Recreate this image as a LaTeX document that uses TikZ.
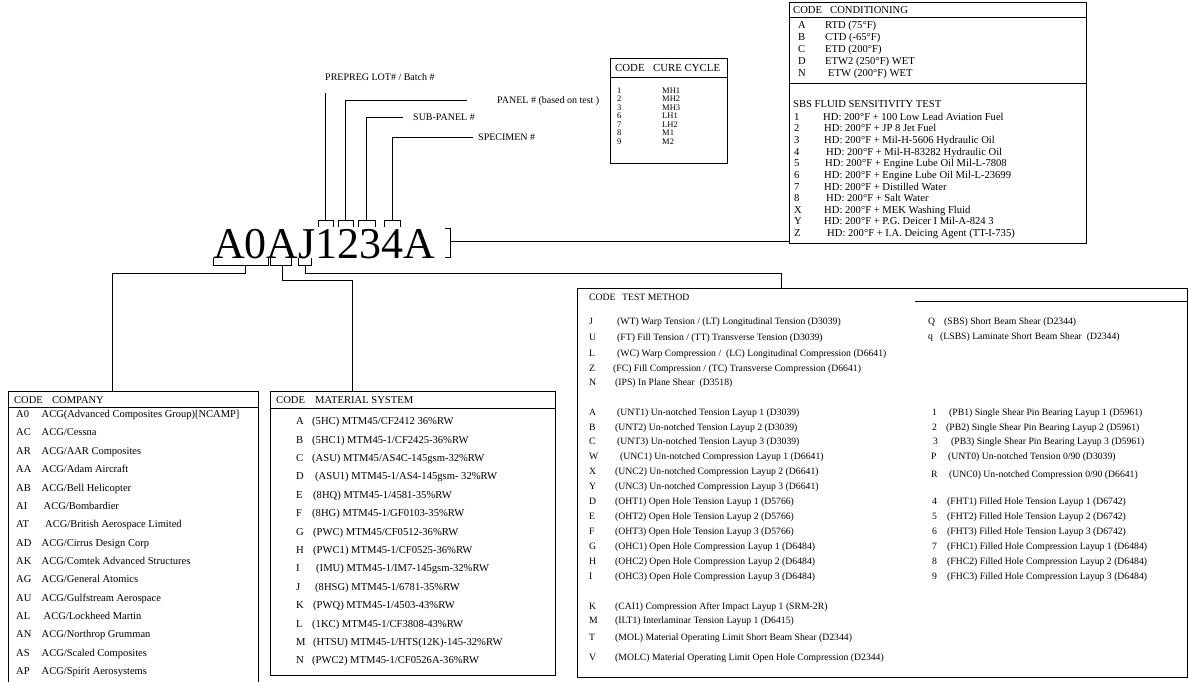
\documentclass[tikz,border=0pt]{standalone}
\usepackage{fontspec}
\setmainfont{Liberation Serif}
\begin{document}
\begin{tikzpicture}[x=1pt,y=-1pt,
  ln/.style={line width=0.8pt, draw=black},
  frame/.style={draw=black, line width=0.8pt, inner sep=0pt, outer sep=0pt, anchor=north west},
  tx/.style={anchor=base west, inner sep=0pt},
  fcond/.style={tx, font=\fontsize{10.6}{12}\selectfont, yshift=-3.6pt},
  fcureh/.style={tx, font=\fontsize{10.8}{12}\selectfont, yshift=-3.7pt},
  fcure/.style={tx, font=\fontsize{8.5}{9}\selectfont, yshift=-3pt},
  flbl/.style={tx, font=\fontsize{10}{12}\selectfont, yshift=-3.4pt},
  fcomp/.style={tx, font=\fontsize{10.5}{12}\selectfont, yshift=-3.6pt},
  fmat/.style={tx, font=\fontsize{10.6}{12}\selectfont, yshift=-3.6pt},
  ftm/.style={tx, font=\fontsize{9.7}{11}\selectfont, yshift=-3.3pt},
  fbig/.style={tx, font=\fontsize{44}{44}\selectfont}
]
\useasboundingbox (0,0) rectangle (1189,681);
\fill[white] (0,0) rectangle (1189,681);

% ---------- big code ----------
\node[fbig] (code) at (213,258) {A0AJ1234A};

% top brackets
\foreach \a/\b/\n in {318.3/333.3/t1, 338.3/353.3/t2, 358.3/375/t3, 384.3/400/t4}{
  \draw[ln] (\a,226.5) |- (\b,220.5) -- (\b,226.5);
  \coordinate (\n) at ({(\a+\b)/2},220.5);
}
% bottom brackets
\draw[ln] (213.3,258.3) |- (268.3,265) -- (268.3,258.3);
\draw[ln] (270,258.3) |- (291.7,265) -- (291.7,258.3);
\draw[ln] (298.3,258.3) |- (311.7,265) -- (311.7,258.3);
\coordinate (bA0) at (245,265);
\coordinate (bA) at (282,265);
\coordinate (bJ) at (305,265);
% right bracket
\draw[ln] (445,228) -| (450,257) -- (445,257);
\coordinate (rb) at (450,241.7);

% ---------- labels on top ----------
\node[flbl] (prepreg) at (325,77) {PREPREG LOT\# / Batch \#};
\node[flbl] (panel) at (497,100) {PANEL \# (based on test )};
\node[flbl] (subpanel) at (413,117) {SUB-PANEL \#};
\node[flbl] (specimen) at (478,137) {SPECIMEN \#};
\coordinate (pp) at (325.8,93);
\coordinate (pe) at (467,100);
\coordinate (se) at (403,117);
\coordinate (sp) at (473,137);
\draw[ln] (t1) -- (pp);
\draw[ln] (t2) |- (pe);
\draw[ln] (t3) |- (se);
\draw[ln] (t4) |- (sp);

% ---------- cure cycle ----------
\node[frame, minimum width=117pt, minimum height=105pt] (cure) at (610,58) {};
\draw[ln] (610,77) -- (727,77);
\node[fcureh] (cureC) at (615,68) {CODE};
\node[fcureh] (cureH) at (653,68) {CURE CYCLE};
\foreach \c/\v [count=\i from 0] in {1/MH1,2/MH2,3/MH3,6/LH1,7/LH2,8/M1,9/M2}{
  \node[fcure] (cc\c) at (617,{90+8.5*\i}) {\c};
  \node[fcure] (cv\c) at (662,{90+8.5*\i}) {\v};
}

% ---------- conditioning ----------
\node[frame, minimum width=297pt, minimum height=241pt] (cond) at (789,2) {};
\draw[ln] (789,17) -- (1086,17);
\draw[ln] (789,83) -- (1086,83);
\node[fcond] (condC) at (793,9.5) {CODE};
\node[fcond] (condH) at (830,9.5) {CONDITIONING};
\foreach \c/\x/\v [count=\i from 0] in {A/825/{RTD (75°F)},B/825/{CTD (-65°F)},C/825/{ETD (200°F)},D/825/{ETW2 (250°F) WET},N/828/{ETW (200°F) WET}}{
  \node[fcond] (ck\c) at (798,{24.5+12*\i}) {\c};
  \node[fcond] (cv\c) at (\x,{24.5+12*\i}) {\v};
}
\node[fcond] (sbs) at (793,104) {SBS FLUID SENSITIVITY TEST};
\foreach \c/\x/\v [count=\i from 0] in {
  1/823/{HD: 200°F + 100 Low Lead Aviation Fuel},
  2/824/{HD: 200°F + JP 8 Jet Fuel},
  3/824/{HD: 200°F + Mil-H-5606 Hydraulic Oil},
  4/826/{HD: 200°F + Mil-H-83282 Hydraulic Oil},
  5/825/{HD: 200°F + Engine Lube Oil Mil-L-7808},
  6/824/{HD: 200°F + Engine Lube Oil Mil-L-23699},
  7/824/{HD: 200°F + Distilled Water},
  8/826/{HD: 200°F + Salt Water},
  X/824/{HD: 200°F + MEK Washing Fluid},
  Y/824/{HD: 200°F + P.G. Deicer I Mil-A-824 3},
  Z/827/{HD: 200°F + I.A. Deicing Agent (TT-I-735)}}{
  \node[fcond] (sk\c) at (794,{116.5+11.65*\i}) {\c};
  \node[fcond] (sv\c) at (\x,{116.5+11.65*\i}) {\v};
}
\draw[ln] (rb) -- (rb -| cond.west);

% ---------- company ----------
\node[frame, minimum width=250pt, minimum height=300pt] (company) at (8,391) {};
\draw[ln] (8,407) -- (258,407);
\node[fcomp] (compC) at (14,399.5) {CODE};
\node[fcomp] (compH) at (52,399.5) {COMPANY};
\foreach \c/\x/\v [count=\i from 0] in {
  A0/41.5/{ACG(Advanced Composites Group)[NCAMP]},
  AC/41.5/{ACG/Cessna},
  AR/41.5/{ACG/AAR Composites},
  AA/41.5/{ACG/Adam Aircraft},
  AB/41.5/{ACG/Bell Helicopter},
  AI/43.5/{ACG/Bombardier},
  AT/45/{ACG/British Aerospace Limited},
  AD/41.5/{ACG/Cirrus Design Corp},
  AK/41.5/{ACG/Comtek Advanced Structures},
  AG/41.5/{ACG/General Atomics},
  AU/41.5/{ACG/Gulfstream Aerospace},
  AL/43.5/{ACG/Lockheed Martin},
  AN/41.5/{ACG/Northrop Grumman},
  AS/41.5/{ACG/Scaled Composites},
  AP/41.5/{ACG/Spirit Aerosystems}}{
  \node[fcomp] (pk\c) at (16,{414+18.35*\i}) {\c};
  \node[fcomp] (pv\c) at (\x,{414+18.35*\i}) {\v};
}

% ---------- material system ----------
\node[frame, minimum width=285pt, minimum height=284pt] (material) at (270,391) {};
\draw[ln] (270,408) -- (555,408);
\node[fmat] (matC) at (276,400) {CODE};
\node[fmat] (matH) at (315,400) {MATERIAL SYSTEM};
\foreach \c/\x/\v [count=\i from 0] in {
  A/312/{(5HC) MTM45/CF2412 36\%RW},
  B/312/{(5HC1) MTM45-1/CF2425-36\%RW},
  C/312/{(ASU) MTM45/AS4C-145gsm-32\%RW},
  D/315/{(ASU1) MTM45-1/AS4-145gsm- 32\%RW},
  E/313/{(8HQ) MTM45-1/4581-35\%RW},
  F/312/{(8HG) MTM45-1/GF0103-35\%RW},
  G/313/{(PWC) MTM45/CF0512-36\%RW},
  H/313/{(PWC1) MTM45-1/CF0525-36\%RW},
  I/316/{(IMU) MTM45-1/IM7-145gsm-32\%RW},
  J/315/{(8HSG) MTM45-1/6781-35\%RW},
  K/313/{(PWQ) MTM45-1/4503-43\%RW},
  L/312/{(1KC) MTM45-1/CF3808-43\%RW},
  M/313/{(HTSU) MTM45-1/HTS(12K)-145-32\%RW},
  N/312/{(PWC2) MTM45-1/CF0526A-36\%RW}}{
  \node[fmat] (mk\c) at (296,{421+18.4*\i}) {\c};
  \node[fmat] (mv\c) at (\x,{421+18.4*\i}) {\v};
}

% ---------- test method ----------
\node[frame, minimum width=610pt, minimum height=389pt] (test) at (577,288) {};
\draw[ln] (915,301) -- (1187,301);
\node[ftm] (tmC) at (589,297) {CODE};
\node[ftm] (tmH) at (622,297) {TEST METHOD};
\foreach \c/\x/\y/\v in {
  J/617/321/{(WT) Warp Tension / (LT) Longitudinal Tension (D3039)},
  U/617/337/{(FT) Fill Tension / (TT) Transverse Tension (D3039)},
  L/617/353/{(WC) Warp Compression /\ \ (LC) Longitudinal Compression (D6641)},
  Z/613/368/{(FC) Fill Compression / (TC) Transverse Compression (D6641)},
  N/615/382/{(IPS) In Plane Shear\ \ (D3518)},
  A/617/412/{(UNT1) Un-notched Tension Layup 1 (D3039)},
  B/615/427/{(UNT2) Un-notched Tension Layup 2 (D3039)},
  C/617/441/{(UNT3) Un-notched Tension Layup 3 (D3039)},
  W/620/456/{(UNC1) Un-notched Compression Layup 1 (D6641)},
  X/615/471/{(UNC2) Un-notched Compression Layup 2 (D6641)},
  Y/615/486/{(UNC3) Un-notched Compression Layup 3 (D6641)},
  D/615/501/{(OHT1) Open Hole Tension Layup 1 (D5766)},
  E/615/516/{(OHT2) Open Hole Tension Layup 2 (D5766)},
  F/615/531/{(OHT3) Open Hole Tension Layup 3 (D5766)},
  G/615/546/{(OHC1) Open Hole Compression Layup 1 (D6484)},
  H/615/561/{(OHC2) Open Hole Compression Layup 2 (D6484)},
  I/615/576/{(OHC3) Open Hole Compression Layup 3 (D6484)},
  K/615/606/{(CAI1) Compression After Impact Layup 1 (SRM-2R)},
  M/615/620/{(ILT1) Interlaminar Tension Layup 1 (D6415)},
  T/615/637/{(MOL) Material Operating Limit Short Beam Shear (D2344)},
  V/615/657/{(MOLC) Material Operating Limit Open Hole Compression (D2344)}}{
  \node[ftm] (lk\c) at (589,\y) {\c};
  \node[ftm] (lv\c) at (\x,\y) {\v};
}
\foreach \c/\k/\x/\y/\v in {
  Q/928/944/321/{(SBS) Short Beam Shear (D2344)},
  q/928/940/336/{(LSBS) Laminate Short Beam Shear\ \ (D2344)},
  1/932/949/412/{(PB1) Single Shear Pin Bearing Layup 1 (D5961)},
  2/932/946/427/{(PB2) Single Shear Pin Bearing Layup 2 (D5961)},
  3/933/951/441/{(PB3) Single Shear Pin Bearing Layup 3 (D5961)},
  P/931/948/456/{(UNT0) Un-notched Tension 0/90 (D3039)},
  R/931/949/474/{(UNC0) Un-notched Compression 0/90 (D6641)},
  4/932/947/501/{(FHT1) Filled Hole Tension Layup 1 (D6742)},
  5/932/947/516/{(FHT2) Filled Hole Tension Layup 2 (D6742)},
  6/932/947/531/{(FHT3) Filled Hole Tension Layup 3 (D6742)},
  7/932/947/546/{(FHC1) Filled Hole Compression Layup 1 (D6484)},
  8/932/947/561/{(FHC2) Filled Hole Compression Layup 2 (D6484)},
  9/932/947/576/{(FHC3) Filled Hole Compression Layup 3 (D6484)}}{
  \node[ftm] (rk\c) at (\k,\y) {\c};
  \node[ftm] (rv\c) at (\x,\y) {\v};
}

% ---------- connectors from code to tables ----------
\coordinate (cA0) at (112,273.3);
\coordinate (cA) at (352.3,280);
\coordinate (cJ) at (781,273.3);
\draw[ln] (bA0) |- (cA0) -- (cA0 |- company.north);
\draw[ln] (bA) |- (cA) -- (cA |- material.north);
\draw[ln] (bJ) |- (cJ) -- (cJ |- test.north);
\end{tikzpicture}
\end{document}
